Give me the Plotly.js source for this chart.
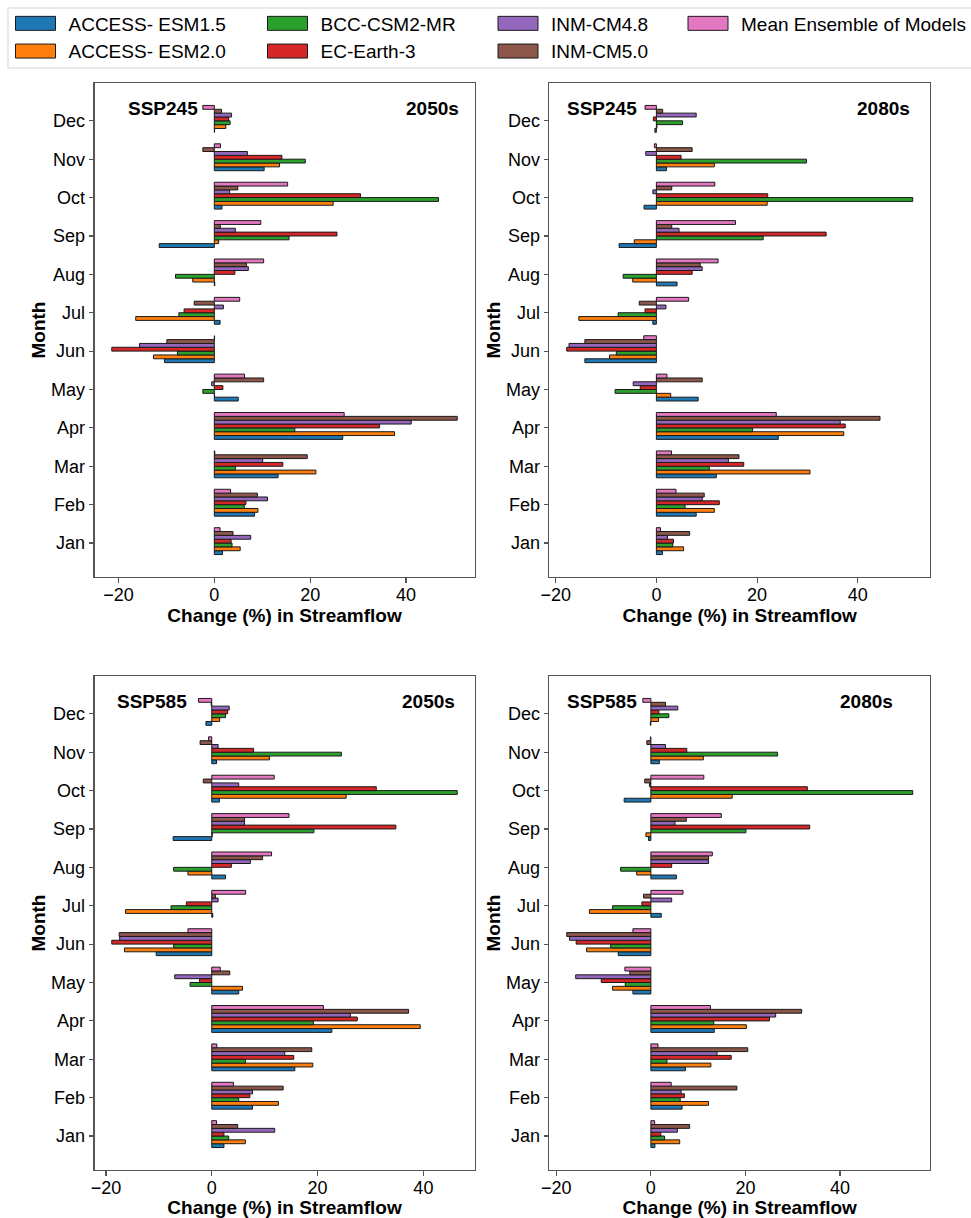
<!DOCTYPE html>
<html>
<head>
<meta charset="utf-8">
<script src="https://cdn.plot.ly/plotly-3.0.1.min.js"></script>
<style>
html,body{margin:0;padding:0;background:#fff;}
#chart{width:971px;height:1218px;}
</style>
</head>
<body>
<div id="chart"></div>
<script>
// ---------- categories ----------
const months = ['Jan','Feb','Mar','Apr','May','Jun','Jul','Aug','Sep','Oct','Nov','Dec'];
const models = ['ACCESS- ESM1.5','ACCESS- ESM2.0','BCC-CSM2-MR','EC-Earth-3','INM-CM4.8','INM-CM5.0','Mean Ensemble of Models'];

// ---------- SSP245, 2050s (Jan..Dec, % change) ----------
const s245_2050_access15 = [1.7, 8.4, 13.3, 26.8, 5.0, -10.4, 1.2, 0.1, -11.5, 1.6, 10.4, 0.05];
const s245_2050_access20 = [5.4, 9.1, 21.2, 37.6, 0.05, -12.7, -16.4, -4.5, 0.9, 24.8, 13.6, 2.4];
const s245_2050_bcc      = [3.7, 6.25, 4.4, 16.8, -2.4, -7.7, -7.4, -8.1, 15.6, 46.8, 19.0, 3.3];
const s245_2050_ecearth  = [3.5, 6.6, 14.3, 34.5, 1.8, -21.4, -6.3, 4.3, 25.6, 30.5, 14.1, 3.0];
const s245_2050_inm48    = [7.6, 11.1, 10.1, 41.1, -0.55, -15.6, 1.9, 7.1, 4.4, 3.2, 6.9, 3.6];
const s245_2050_inm50    = [3.9, 9.0, 19.4, 50.7, 10.3, -9.9, -4.2, 6.7, 1.25, 4.9, -2.4, 1.5];
const s245_2050_mean     = [1.2, 3.4, 0.1, 27.1, 6.3, 0.05, 5.3, 10.3, 9.7, 15.3, 1.3, -2.4];

// ---------- SSP245, 2080s ----------
const s245_2080_access15 = [1.2, 7.9, 11.9, 24.2, 8.3, -14.2, -0.7, 4.1, -7.4, -2.45, 2.0, -0.3];
const s245_2080_access20 = [5.4, 11.5, 30.5, 37.2, 2.85, -9.3, -15.4, -4.7, -4.4, 22.0, 11.5, 0.1];
const s245_2080_bcc      = [3.25, 5.7, 10.5, 19.1, -8.2, -7.95, -7.6, -6.6, 21.2, 50.9, 29.8, 5.2];
const s245_2080_ecearth  = [3.4, 12.5, 17.35, 37.5, -3.2, -17.8, -2.25, 7.1, 33.7, 22.1, 4.9, -0.6];
const s245_2080_inm48    = [2.2, 9.1, 14.3, 36.5, -4.6, -17.35, 1.9, 9.1, 4.5, -0.7, -2.1, 7.9];
const s245_2080_inm50    = [6.6, 9.5, 16.4, 44.4, 9.1, -14.2, -3.4, 8.7, 3.05, 3.05, 7.1, 1.25];
const s245_2080_mean     = [0.8, 3.9, 3.0, 23.8, 2.1, -2.5, 6.4, 12.25, 15.7, 11.6, -0.4, -2.25];

// ---------- SSP585, 2050s ----------
const s585_2050_access15 = [2.3, 7.7, 15.7, 22.7, 5.1, -10.5, 0.2, 2.6, -7.3, 1.45, 0.9, -1.1];
const s585_2050_access20 = [6.35, 12.6, 19.1, 39.4, 5.8, -16.5, -16.3, -4.5, 0.1, 25.4, 10.9, 1.5];
const s585_2050_bcc      = [3.2, 5.1, 6.35, 19.2, -4.1, -7.2, -7.7, -7.2, 19.3, 46.4, 24.5, 2.6];
const s585_2050_ecearth  = [2.3, 7.2, 15.5, 27.5, -2.3, -18.9, -4.8, 3.7, 34.8, 31.1, 7.9, 3.0];
const s585_2050_inm48    = [11.9, 7.7, 13.8, 26.2, -7.0, -17.4, 1.2, 7.3, 6.2, 5.1, 1.2, 3.3];
const s585_2050_inm50    = [4.9, 13.5, 18.9, 37.2, 3.4, -17.5, 0.7, 9.6, 6.2, -1.6, -2.2, -0.1];
const s585_2050_mean     = [0.9, 4.1, 0.95, 21.1, 1.6, -4.5, 6.4, 11.3, 14.6, 11.8, -0.6, -2.5];

// ---------- SSP585, 2080s ----------
const s585_2080_access15 = [0.85, 6.6, 7.3, 13.4, -3.8, -6.9, 2.2, 5.4, -0.5, -5.65, 1.8, -0.1];
const s585_2080_access20 = [6.1, 12.2, 12.7, 20.2, -8.1, -13.6, -13.0, -3.0, -1.05, 17.2, 11.1, 1.6];
const s585_2080_bcc      = [2.9, 6.2, 3.4, 13.3, -5.4, -8.5, -8.1, -6.4, 20.1, 55.4, 26.8, 3.8];
const s585_2080_ecearth  = [2.1, 7.1, 17.0, 25.1, -10.5, -15.8, -1.9, 4.4, 33.6, 33.1, 7.6, 1.7];
const s585_2080_inm48    = [5.6, 6.4, 14.0, 26.4, -15.9, -17.2, 4.4, 12.2, 5.1, -0.3, 3.1, 5.7];
const s585_2080_inm50    = [8.2, 18.2, 20.5, 31.9, -4.45, -17.8, -1.55, 12.2, 7.5, -1.3, -0.85, 3.1];
const s585_2080_mean     = [0.8, 4.3, 1.5, 12.6, -5.5, -3.8, 6.8, 13.0, 14.9, 11.2, -0.1, -1.7];

const xTickVals = [-20, 0, 20, 40];

// ---------- styling ----------
const colors = ['#1f77b4','#ff7f0e','#2ca02c','#d62728','#9467bd','#8c564b','#e377c2'];
const legendIds = ['legend','legend','legend2','legend2','legend3','legend3','legend4'];
const FONT = 'Liberation Sans, Arial, Helvetica, sans-serif';
const W = 971, H = 1218;

const panels = [
  {ax:'', series:[s245_2050_access15,s245_2050_access20,s245_2050_bcc,s245_2050_ecearth,s245_2050_inm48,s245_2050_inm50,s245_2050_mean],
   scen:'SSP245', period:'2050s', sx:0.082, px:0.815, px0:[94.6,475], py0:[83,577]},
  {ax:'2', series:[s245_2080_access15,s245_2080_access20,s245_2080_bcc,s245_2080_ecearth,s245_2080_inm48,s245_2080_inm50,s245_2080_mean],
   scen:'SSP245', period:'2080s', sx:0.040, px:0.804, px0:[550,931], py0:[83,577]},
  {ax:'3', series:[s585_2050_access15,s585_2050_access20,s585_2050_bcc,s585_2050_ecearth,s585_2050_inm48,s585_2050_inm50,s585_2050_mean],
   scen:'SSP585', period:'2050s', sx:0.053, px:0.805, px0:[94.6,475], py0:[676,1170]},
  {ax:'4', series:[s585_2080_access15,s585_2080_access20,s585_2080_bcc,s585_2080_ecearth,s585_2080_inm48,s585_2080_inm50,s585_2080_mean],
   scen:'SSP585', period:'2080s', sx:0.040, px:0.758, px0:[550,931], py0:[676,1170]}
];

const barW = 0.1;
const traces = [];
const layout = {
  width: W, height: H,
  margin: {l:0, r:0, t:0, b:0},
  paper_bgcolor: '#fff', plot_bgcolor: '#fff',
  font: {family: FONT, size: 18, color: '#000'},
  barmode: 'overlay',
  annotations: [],
  shapes: [{
    type:'rect', xref:'paper', yref:'paper',
    x0: 8/W, x1: 1.02, y0: 1 - 68/H, y1: 1 - 8/H,
    line:{color:'#d4d4d4', width:1}, fillcolor:'rgba(255,255,255,0)', layer:'below'
  }]
};

panels.forEach((p, pi) => {
  let mn = 0, mx = 0;
  p.series.forEach((vals, i) => {
    vals.forEach(v => { mn = Math.min(mn, v); mx = Math.max(mx, v); });
    traces.push({
      type: 'bar', orientation: 'h',
      x: vals, y: months,
      xaxis: 'x' + p.ax, yaxis: 'y' + p.ax,
      name: models[i],
      legend: legendIds[i],
      legendgroup: models[i],
      showlegend: pi === 0,
      width: barW,
      offset: -0.3 + i * barW,
      marker: {color: colors[i], line: {color: '#1a1a1a', width: 1}},
      hoverinfo: 'x+y+name'
    });
  });
  const pad = (mx - mn) * 0.05;
  const axisCommon = {
    showline: true, linecolor: '#555', linewidth: 1.3, mirror: true,
    ticks: 'outside', ticklen: 4.5, tickwidth: 1.2, tickcolor: '#555',
    showgrid: false, zeroline: false,
    tickfont: {family: FONT, size: 18, color: '#000'}
  };
  layout['xaxis' + p.ax] = Object.assign({}, axisCommon, {
    domain: [p.px0[0]/W, p.px0[1]/W],
    anchor: 'y' + p.ax,
    range: [mn - pad, mx + pad],
    tickvals: xTickVals,
    ticklabelstandoff: -3,
    title: {text: 'Change (%) in Streamflow', font: {family: FONT, size: 19, weight: 'bold', color: '#000'}, standoff: 1}
  });
  layout['yaxis' + p.ax] = Object.assign({}, axisCommon, {
    domain: [1 - p.py0[1]/H, 1 - p.py0[0]/H],
    anchor: 'x' + p.ax,
    type: 'category',
    categoryorder: 'array', categoryarray: months,
    range: [-0.3 - 11.7*0.05, 11.4 + 11.7*0.05],
    title: {text: 'Month', font: {family: FONT, size: 19, weight: 'bold', color: '#000'}, standoff: 0}
  });
  layout.annotations.push({
    xref: 'x' + p.ax + ' domain', yref: 'y' + p.ax + ' domain',
    x: p.sx, y: 0.948, xanchor: 'left', yanchor: 'middle',
    text: '<b>' + p.scen + '</b>', showarrow: false,
    font: {family: FONT, size: 19, color: '#000'}
  });
  layout.annotations.push({
    xref: 'x' + p.ax + ' domain', yref: 'y' + p.ax + ' domain',
    x: p.px, y: 0.948, xanchor: 'left', yanchor: 'middle',
    text: '<b>' + p.period + '</b>', showarrow: false,
    font: {family: FONT, size: 19, color: '#000'}
  });
});

// legends: four columns like the reference
const legendCols = [2.5, 254.5, 485, 675.5];
['legend','legend2','legend3','legend4'].forEach((id, k) => {
  layout[id] = {
    x: legendCols[k]/W, y: 1 - 4.5/H, xanchor: 'left', yanchor: 'top',
    orientation: 'v', traceorder: 'grouped', tracegroupgap: 0,
    itemwidth: 56, bgcolor: 'rgba(0,0,0,0)', borderwidth: 0,
    font: {family: FONT, size: 19, color: '#000'}
  };
});

function widenLegendSymbols() {
  document.querySelectorAll('#chart g.legendpoints path').forEach(p => {
    if (p.getAttribute('d') !== 'M20,7H-20V-7H20Z') p.setAttribute('d', 'M20,7H-20V-7H20Z');
  });
}

Plotly.newPlot('chart', traces, layout, {staticPlot: true, displayModeBar: false}).then(gd => {
  widenLegendSymbols();
  gd.on && gd.on('plotly_afterplot', widenLegendSymbols);
  [0, 50, 200, 500].forEach(t => setTimeout(widenLegendSymbols, t));
  new MutationObserver(widenLegendSymbols).observe(gd, {subtree: true, childList: true, attributes: true, attributeFilter: ['d']});
});
</script>
</body>
</html>
